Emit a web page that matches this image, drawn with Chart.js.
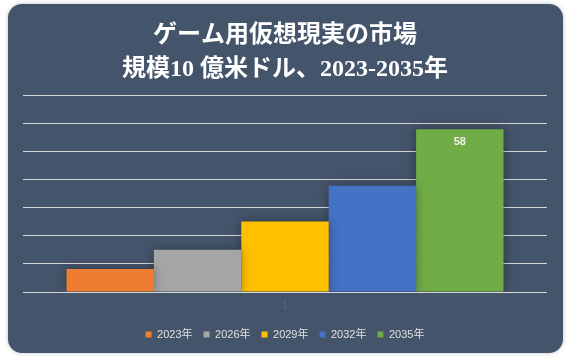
<!DOCTYPE html>
<html>
<head>
<meta charset="utf-8">
<script src="https://cdn.jsdelivr.net/npm/chart.js@4"></script>
<style>
  html, body { margin: 0; padding: 0; background: #ffffff; }
  #wrap { width: 567px; height: 358px; }
</style>
</head>
<body>
<div id="wrap"><canvas id="chart" width="567" height="358"></canvas></div>
<script>
// market size, billion USD
const years = ['2023年', '2026年', '2029年', '2032年', '2035年']
const values = [8.2, 15.1, 25.1, 37.9, 58]
const colors = ['#ed7d31', '#a5a5a5', '#ffc000', '#4472c4', '#70ad47']
const titleLines = ['ゲーム用仮想現実の市場', '規模10 億米ドル、2023-2035年']
const categories = ['1']

// rounded slate panel behind everything
const panelPlugin = {
    id: 'panel',
    beforeDraw(chart) {
        const ctx = chart.ctx
        ctx.save()
        ctx.fillStyle = '#ffffff'
        ctx.fillRect(0, 0, chart.width, chart.height)
        ctx.shadowColor = 'rgba(0,0,0,0.25)'
        ctx.shadowBlur = 4
        ctx.fillStyle = '#44546a'
        ctx.beginPath()
        ctx.roundRect(8, 4, 555, 349, 14)
        ctx.fill()
        ctx.restore()
    }
}

// soft shadow on the bars
const shadowPlugin = {
    id: 'barShadow',
    beforeDatasetsDraw(chart) {
        chart.ctx.save()
        chart.ctx.shadowColor = 'rgba(0,0,0,0.35)'
        chart.ctx.shadowBlur = 10
    },
    afterDatasetsDraw(chart) {
        chart.ctx.restore()
    }
}

// only the last bar carries its value
const valueLabel = {
    id: 'valueLabel',
    afterDatasetsDraw(chart) {
        const last = values.length - 1
        const bar = chart.getDatasetMeta(last).data[0]
        const ctx = chart.ctx
        ctx.save()
        ctx.fillStyle = '#f2f2e6'
        ctx.font = 'bold 11px "Liberation Sans Narrow", "Liberation Sans", sans-serif'
        ctx.textAlign = 'center'
        ctx.textBaseline = 'middle'
        ctx.fillText(String(values[last]), bar.x, bar.y + 13)
        ctx.restore()
    }
}

const datasets = years.map(function(year, i) {
    return {
        label: year,
        data: [values[i]],
        backgroundColor: colors[i],
        borderWidth: 0
    }
})

const ctx = document.getElementById('chart').getContext('2d')
new Chart(ctx, {
    type: 'bar',
    data: { labels: categories, datasets: datasets },
    plugins: [panelPlugin, shadowPlugin, valueLabel],
    options: {
        responsive: false,
        animation: false,
        layout: { padding: { left: 23, right: 20, top: 0, bottom: 8 } },
        datasets: { bar: { categoryPercentage: 0.834, barPercentage: 1 } },
        scales: {
            x: {
                display: true,
                grid: { display: false, drawTicks: false },
                border: { display: false },
                ticks: {
                    color: 'rgba(255,255,255,0.12)',
                    padding: 7,
                    font: { family: '"Liberation Sans", sans-serif', size: 10 }
                }
            },
            y: {
                min: 0,
                max: 70,
                ticks: { display: false, stepSize: 10 },
                border: { display: false },
                grid: { color: '#d9d9d9', lineWidth: 1, drawTicks: false }
            }
        },
        plugins: {
            title: {
                display: true,
                text: titleLines,
                color: '#ffffff',
                font: { family: '"Liberation Serif", "Noto Sans CJK JP", serif', size: 24, weight: 'bold', lineHeight: 1.45 },
                padding: { top: 18, bottom: 8 }
            },
            legend: {
                position: 'bottom',
                labels: {
                    color: '#e0e0e0',
                    boxWidth: 6,
                    boxHeight: 6,
                    padding: 11,
                    font: { family: '"Liberation Sans", "Noto Sans CJK JP", sans-serif', size: 11 }
                }
            },
            tooltip: { enabled: false }
        }
    }
})
</script>
</body>
</html>
